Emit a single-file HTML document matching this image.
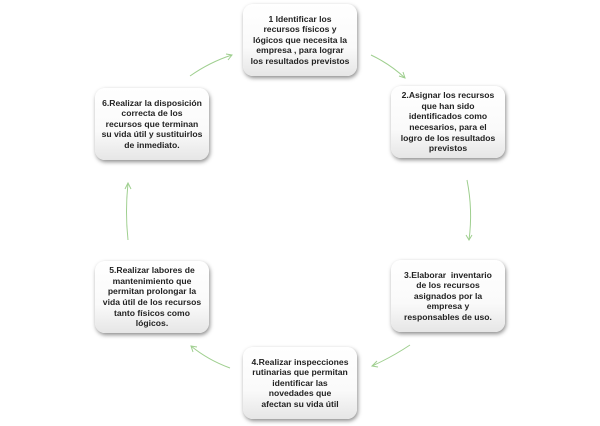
<!DOCTYPE html>
<html><head><style>
body{margin:0;width:600px;height:426px;background:#fff;position:relative;overflow:hidden;font-family:"Liberation Sans",sans-serif;}
.b{position:absolute;width:114px;height:72px;border-radius:10px;background:linear-gradient(#fff 0%,#fafafa 60%,#e6e6e6 100%);box-shadow:1px 2px 4px rgba(0,0,0,.45);display:flex;align-items:center;justify-content:center;text-align:center;font-weight:bold;font-size:8.6px;line-height:10.6px;color:#222;box-sizing:border-box;white-space:nowrap;}
svg{position:absolute;left:0;top:0}
</style></head><body>
<svg width="600" height="426">
<g stroke="#9fcf8f" fill="none" stroke-width="1">
<path d="M371 55 Q390 64 405 78"/><path d="M399 76 L405 78 L403 72"/>
<path d="M467 180 Q473 210 469 240"/><path d="M466 235 L469 240 L472 235"/>
<path d="M410 345 Q392 357 372 366"/><path d="M377 361 L372 366 L378 367"/>
<path d="M230 368 Q208 360 191 346"/><path d="M193 352 L191 346 L197 347"/>
<path d="M128 240 Q125 212 128 183"/><path d="M125 189 L128 183 L131 189"/>
<path d="M190 76 Q210 62 232 55"/><path d="M226 54 L232 55 L228 60"/>
</g></svg>
<div class="b" style="left:243px;top:4px">1 Identificar los<br>recursos físicos y<br>lógicos que necesita la<br>empresa , para lograr<br>los resultados previstos</div>
<div class="b" style="left:391px;top:86px">2.Asignar los recursos<br>que han sido<br>identificados como<br>necesarios, para el<br>logro de los resultados<br>previstos</div>
<div class="b" style="left:391px;top:260px">3.Elaborar &nbsp;inventario<br>de los recursos<br>asignados por la<br>empresa y<br>responsables de uso.</div>
<div class="b" style="left:243px;top:347px">4.Realizar inspecciones<br>rutinarias que permitan<br>identificar las<br>novedades que<br>afectan su vida útil</div>
<div class="b" style="left:95px;top:261px">5.Realizar labores de<br>mantenimiento que<br>permitan prolongar la<br>vida útil de los recursos<br>tanto físicos como<br>lógicos.</div>
<div class="b" style="left:95px;top:88px">6.Realizar la disposición<br>correcta de los<br>recursos que terminan<br>su vida útil y sustituirlos<br>de inmediato.</div>
</body></html>
